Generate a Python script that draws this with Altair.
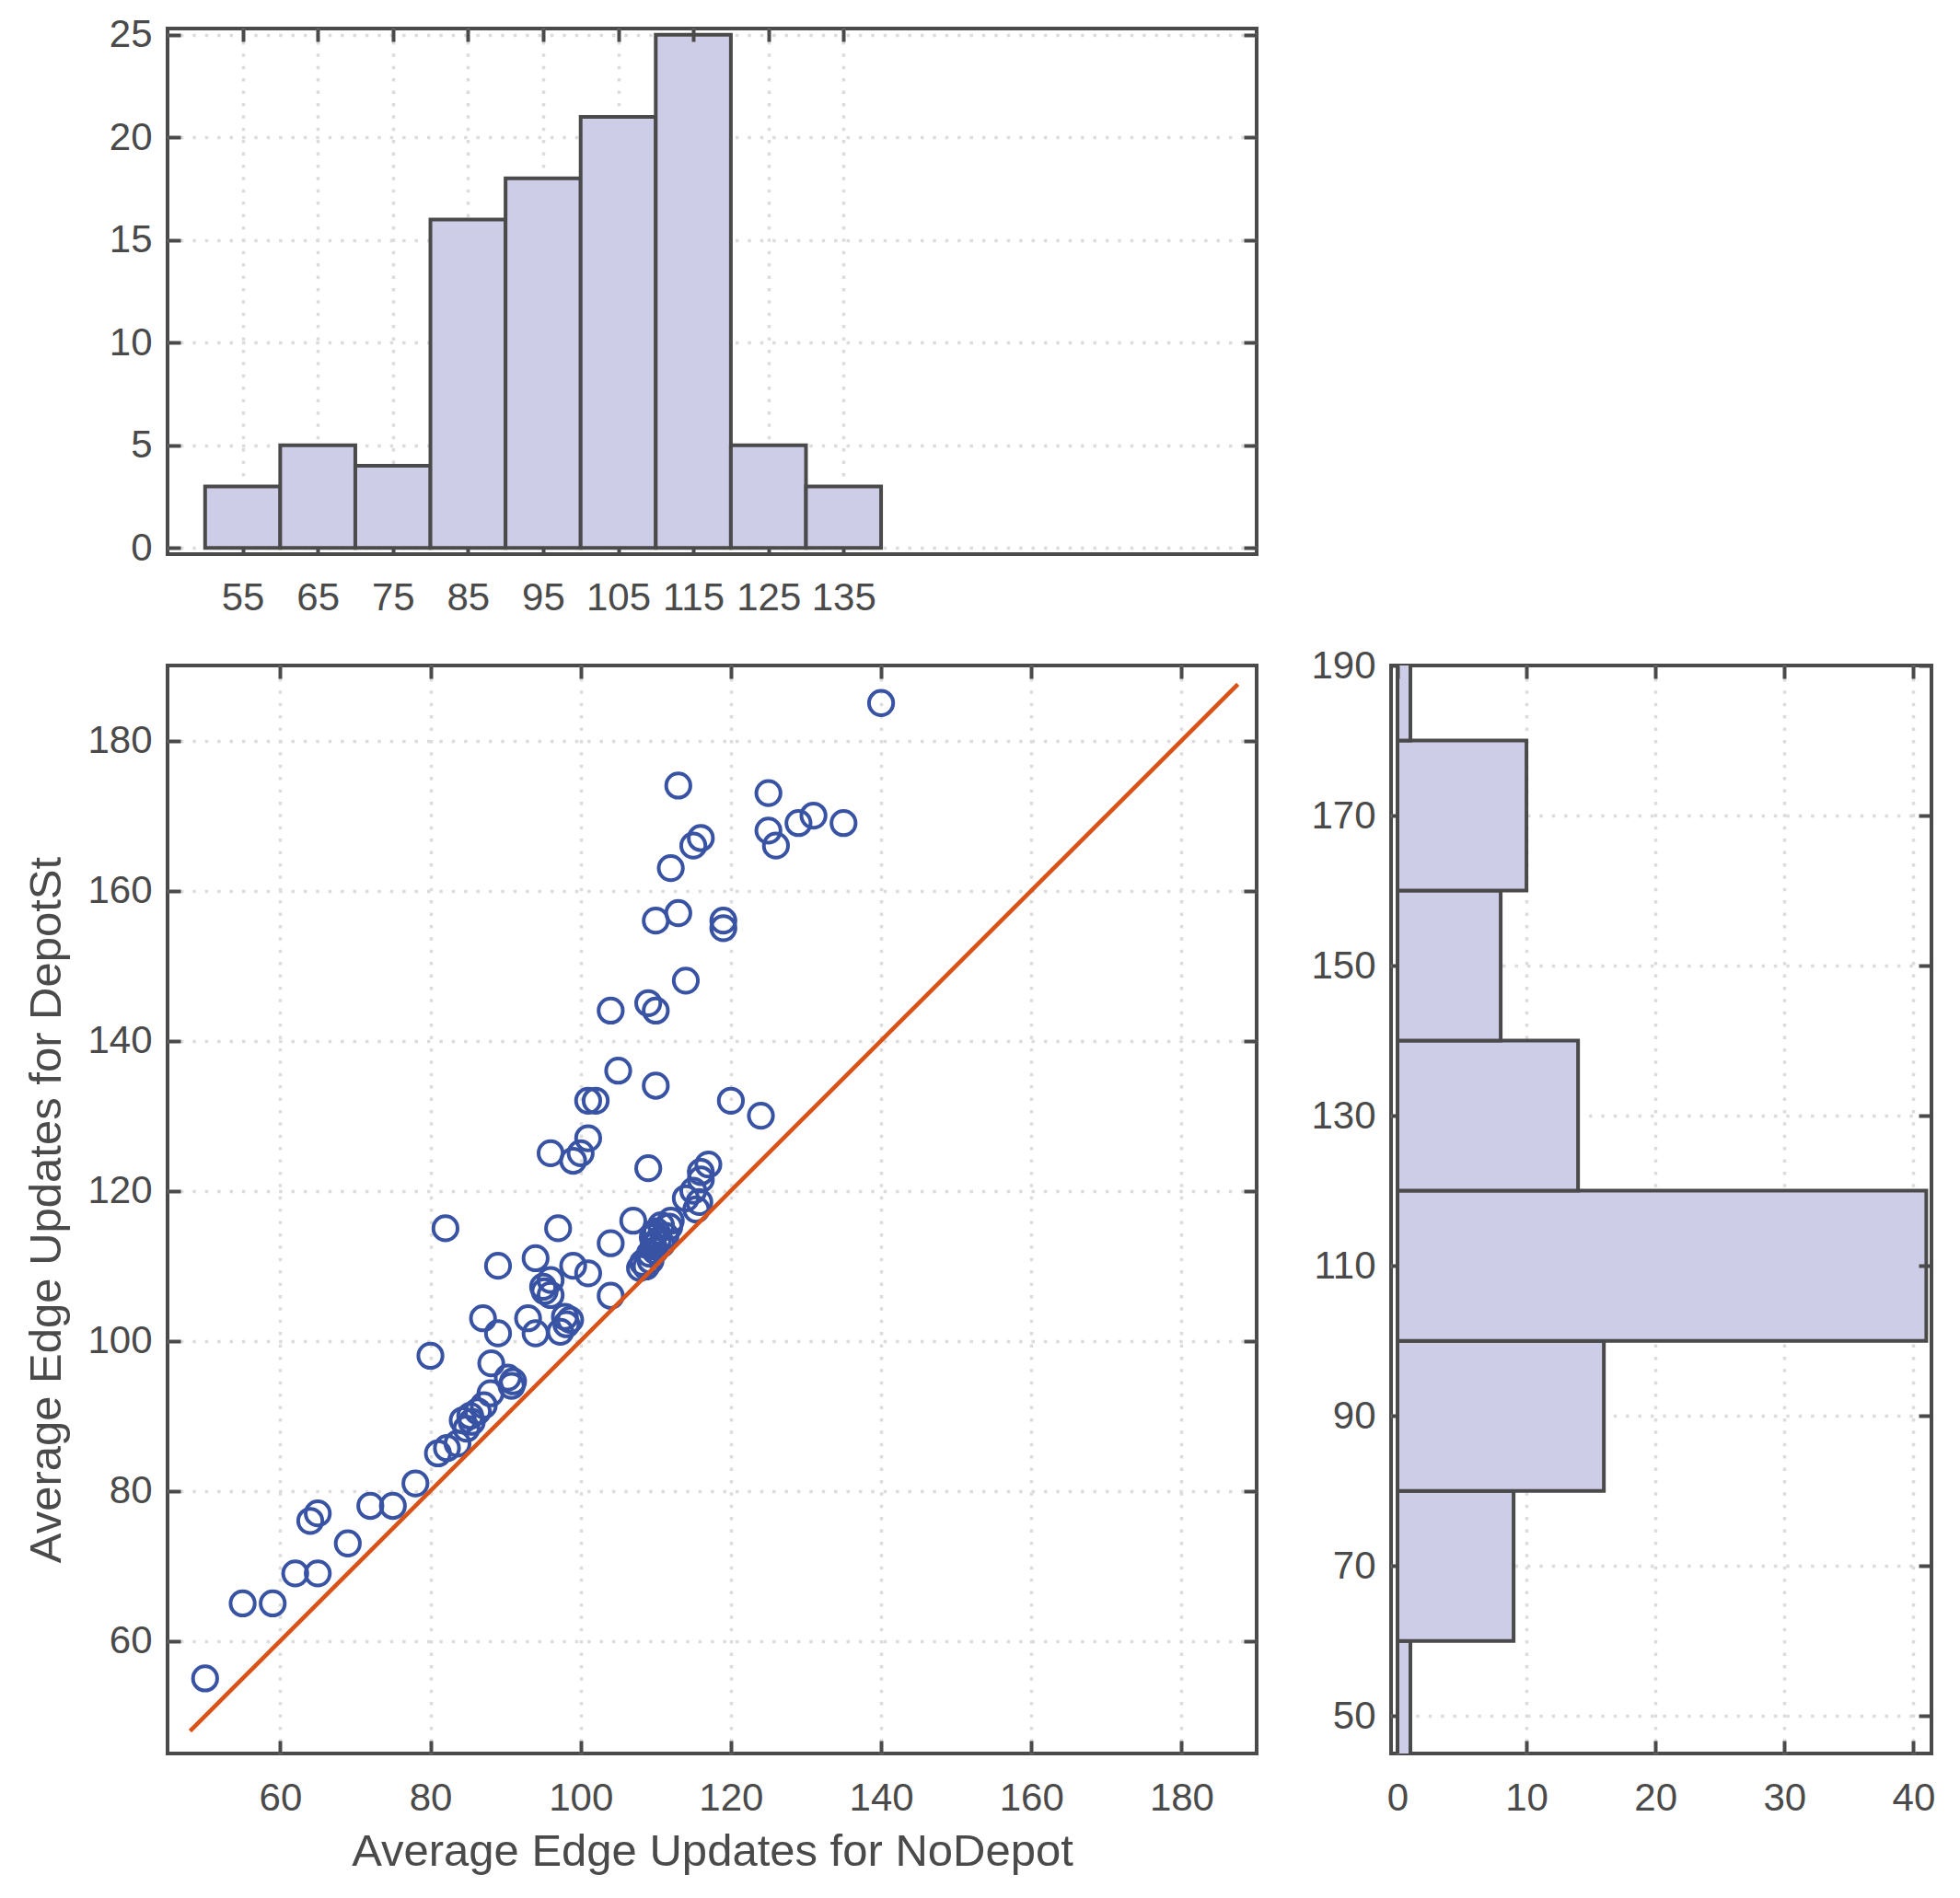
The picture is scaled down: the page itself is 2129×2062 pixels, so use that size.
import altair as alt
import pandas as pd

# ---------------- data ----------------
NODEPOT = [50, 55, 59, 62, 65, 64, 65, 69, 72, 75, 78, 80,
           81, 82.2, 83.6, 84.8, 84.3, 85.5, 85.3, 86.3, 87.1, 88, 88.1, 90.3, 91, 90.8,
           82, 87, 89, 89, 93, 94, 94, 95, 96, 96, 97, 97.3, 97.9, 98.1, 99, 101, 104, 104,
           107, 107.9, 108.7, 109.3, 109.7, 110.3, 110.1, 110.7, 111.3, 112, 114, 115.8, 115.4,
           95.2, 98.6, 109.2, 109.6, 109.9, 108.3, 109.8, 111.8, 110.8,
           96, 100, 99, 101, 101, 102, 105, 110, 120, 124, 109, 117, 116, 116, 115,
           104, 109, 110, 114, 110, 113, 119, 119,
           112, 113, 115, 116, 125, 125, 126, 129, 131, 135,
           140]
DEPOTST = [55, 65, 65, 69, 69, 76, 77, 73, 78, 78, 81, 98,
           85, 85.7, 86.3, 88.3, 89.4, 89.2, 90, 90.6, 91.4, 93, 97, 95.1, 94.6, 94,
           115, 103, 101, 110, 103, 101, 111, 107.2, 108.1, 106.1, 115, 101.2, 103.2, 102.2, 110, 109, 113, 106,
           116, 109.7, 109.9, 110.7, 112.6, 113.4, 114.6, 115.4, 114, 116, 119, 118.5, 117.5,
           106.6, 102.8, 111.6, 113.8, 112, 110.4, 114.2, 115.2, 112.9,
           125, 125, 124, 127, 132, 132, 136, 134, 132, 130, 123, 123.5, 122.5, 121.5, 120,
           144, 145, 144, 148, 156, 157, 156, 155,
           163, 174, 166, 167, 173, 168, 166, 169, 170, 169,
           185]

DIAG = [48, 187.5]

X_BIN_START = [50, 60, 70, 80, 90, 100, 110, 120, 130]
X_BIN_END = [60, 70, 80, 90, 100, 110, 120, 130, 140]
X_COUNTS = [3, 5, 4, 16, 18, 21, 25, 5, 3]

Y_BIN_START = [40, 60, 80, 100, 120, 140, 160, 180]
Y_BIN_END = [60, 80, 100, 120, 140, 160, 180, 200]
Y_COUNTS = [1, 9, 16, 41, 14, 8, 10, 1]

TOP_X_TICKS = [55, 65, 75, 85, 95, 105, 115, 125, 135]
TOP_Y_TICKS = [0, 5, 10, 15, 20, 25]
SC_TICKS = [60, 80, 100, 120, 140, 160, 180]
RH_Y_TICKS = [50, 70, 90, 110, 130, 150, 170, 190]
RH_X_TICKS = [0, 10, 20, 30, 40]

X_TITLE = "Average Edge Updates for NoDepot"
Y_TITLE = "Average Edge Updates for DepotSt"

# ---------------- style ----------------
DARK = "#4a4a4a"
GRID = "#dcdcdc"
FONT = "Liberation Sans"
TICK = 14
LW = 4.0
LABEL_FS = 42
TITLE_FS = 49


def axis(orient, values, labels=True, grid=False, title=None, extent=None,
         label_pad=17, title_pad=15, grid_opacity=None):
    kw = dict(
        orient=orient, values=values, offset=-TICK, domain=False,
        ticks=True, tickSize=TICK, tickWidth=LW, tickColor=DARK,
        labels=labels, grid=grid, labelFlush=False, labelOverlap=False,
        labelFont=FONT, labelFontSize=LABEL_FS, labelColor=DARK,
        labelPadding=label_pad, labelFontWeight="normal",
        gridColor=GRID, gridDash=[3.5, 9.9], gridWidth=3.5,
        title=title, titleFont=FONT, titleFontSize=TITLE_FS,
        titleColor=DARK, titleFontWeight="normal", titlePadding=title_pad,
    )
    if grid_opacity is not None:
        kw["gridOpacity"] = grid_opacity
    if extent is not None:
        kw["minExtent"] = extent
        kw["maxExtent"] = extent
    if not grid:
        kw["zindex"] = 1
    return alt.Axis(**kw)


pts = pd.DataFrame({"nodepot": NODEPOT, "depot": DEPOTST})
diag = pd.DataFrame({"v": DIAG})
hx = pd.DataFrame({"start": X_BIN_START, "end": X_BIN_END, "count": X_COUNTS})
hy = pd.DataFrame({"start": Y_BIN_START, "end": Y_BIN_END, "count": Y_COUNTS})

val_scale = alt.Scale(domain=[45, 190], nice=False, zero=False)
topcnt_scale = alt.Scale(domain=[-0.3, 25.3], nice=False, zero=False)
rhcnt_scale = alt.Scale(domain=[-0.5, 41.4], nice=False, zero=False)

W_MAIN = 1183
H_TOP = 571
H_MAIN = 1182
W_RIGHT = 587

# ---------------- top histogram ----------------
top_bars = alt.Chart(hx).mark_rect(
    fill="#cecde7", stroke=DARK, strokeWidth=LW, clip=True
).encode(
    x=alt.X("start:Q", scale=val_scale,
            axis=axis("bottom", TOP_X_TICKS, grid=True, extent=84, label_pad=27)),
    x2="end:Q",
    y=alt.Y("count:Q", scale=topcnt_scale,
            axis=axis("left", TOP_Y_TICKS, grid=True, extent=101)),
    y2=alt.datum(0),
)
top_helper = alt.Chart(hx).mark_point(opacity=0).encode(
    x=alt.X("start:Q", scale=val_scale, axis=axis("top", TOP_X_TICKS, labels=False)),
    y=alt.Y("count:Q", scale=topcnt_scale, axis=axis("right", TOP_Y_TICKS, labels=False)),
)
top = alt.layer(top_bars, top_helper).resolve_axis(
    x="independent", y="independent"
).properties(width=W_MAIN, height=H_TOP)

# ---------------- scatter ----------------
sc_points = alt.Chart(pts).mark_point(
    shape="circle", filled=False, color="#3953a4", size=690, strokeWidth=4.0, opacity=1
).encode(
    x=alt.X("nodepot:Q", scale=val_scale,
            axis=axis("bottom", SC_TICKS, grid=True, title=X_TITLE, extent=84,
                      label_pad=28, title_pad=12)),
    y=alt.Y("depot:Q", scale=val_scale,
            axis=axis("left", SC_TICKS, grid=True, title=Y_TITLE, extent=101,
                      title_pad=20)),
)
sc_line = alt.Chart(diag).mark_line(color="#d95319", strokeWidth=4.6).encode(
    x=alt.X("v:Q", scale=val_scale, axis=None),
    y=alt.Y("v:Q", scale=val_scale, axis=None),
)
sc_helper = alt.Chart(pts).mark_point(opacity=0).encode(
    x=alt.X("nodepot:Q", scale=val_scale, axis=axis("top", SC_TICKS, labels=False)),
    y=alt.Y("depot:Q", scale=val_scale, axis=axis("right", SC_TICKS, labels=False)),
)
scatter = alt.layer(sc_points, sc_line, sc_helper).resolve_axis(
    x="independent", y="independent"
).properties(width=W_MAIN, height=H_MAIN)

# ---------------- right histogram ----------------
rh_bars = alt.Chart(hy).mark_rect(
    fill="#cecde7", stroke=DARK, strokeWidth=LW, clip=True
).encode(
    y=alt.Y("start:Q", scale=val_scale,
            axis=axis("left", RH_Y_TICKS, grid=True, extent=101,
                      grid_opacity={"condition": {"test": "datum.value >= 190", "value": 0},
                                    "value": 1})),
    y2="end:Q",
    x=alt.X("count:Q", scale=rhcnt_scale,
            axis=axis("bottom", RH_X_TICKS, grid=True, extent=84, label_pad=28)),
    x2=alt.datum(0),
)
rh_helper = alt.Chart(hy).mark_point(opacity=0).encode(
    y=alt.Y("start:Q", scale=val_scale, axis=axis("right", RH_Y_TICKS, labels=False)),
    x=alt.X("count:Q", scale=rhcnt_scale, axis=axis("top", RH_X_TICKS, labels=False)),
)
right = alt.layer(rh_bars, rh_helper).resolve_axis(
    x="independent", y="independent"
).properties(width=W_RIGHT, height=H_MAIN)

bottom_row = alt.hconcat(scatter, right, spacing=52)
chart = alt.vconcat(top, bottom_row, spacing=26).properties(
    padding={"left": 16, "top": 6, "right": 5, "bottom": 5},
    background="white",
).configure_view(
    stroke=DARK, strokeWidth=LW
)

chart.save("out.html", embed_options={"renderer": "svg", "actions": False})
